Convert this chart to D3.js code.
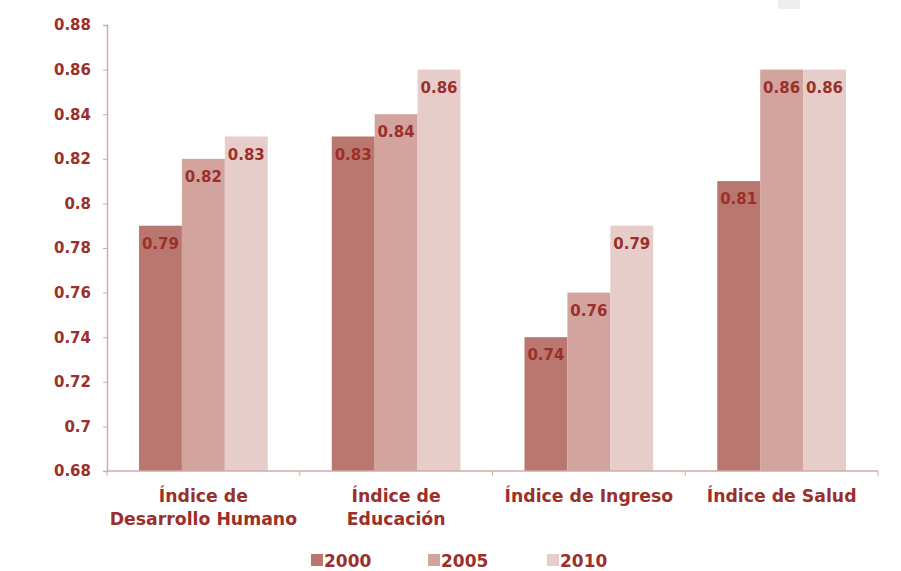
<!DOCTYPE html>
<html><head><meta charset="utf-8">
<script src="https://cdn.jsdelivr.net/npm/d3@7"></script>
<style>body{margin:0;background:#fff}text{font-family:"DejaVu Sans",Verdana,sans-serif;font-weight:bold}</style>
</head><body><svg id="c" width="901" height="571"></svg>
<script>
const categories = [["Índice de","Desarrollo Humano"],["Índice de","Educación"],["Índice de Ingreso"],["Índice de Salud"]];
const years = ["2000","2005","2010"];
const v2000 = [0.79,0.83,0.74,0.81];
const v2005 = [0.82,0.84,0.76,0.86];
const v2010 = [0.83,0.86,0.79,0.86];
const yTicks = [0.68,0.70,0.72,0.74,0.76,0.78,0.80,0.82,0.84,0.86,0.88];
const series = [v2000,v2005,v2010];
const colors = ["#b9776f","#d3a39e","#e7cdca"];
const txt = "#9b2f2a";
const axisCol = "#d2aaa6";

const svg = d3.select("#c");
const L=107,R=878,T=25,B=471;
const y = d3.scaleLinear().domain([0.68,0.88]).range([B,T]);
const x = d3.scaleBand().domain(d3.range(categories.length)).range([L,R]).padding(0);
const xs = d3.scaleBand().domain(d3.range(years.length)).range([32,x.bandwidth()-32]).padding(0);

svg.append("rect").attr("x",778).attr("y",0).attr("width",22).attr("height",9).attr("fill","#eeeeee");

const g = svg.append("g");
categories.forEach((c,i)=>{
  series.forEach((s,j)=>{
    const bx = x(i)+xs(j), v=s[i];
    g.append("rect").attr("x",bx).attr("y",y(v)).attr("width",xs.bandwidth()).attr("height",B-y(v))
      .attr("fill",colors[j]);
    g.append("text").attr("x",bx+xs.bandwidth()/2).attr("y",y(v)+23).attr("text-anchor","middle")
      .attr("font-size",15).attr("fill",txt).text(d3.format(".2f")(v));
  });
});

// y axis
const ya = svg.append("g").attr("transform",`translate(${L},0)`)
  .call(d3.axisLeft(y).tickValues(yTicks).tickSize(4).tickPadding(12).tickFormat(d=>String(+d.toFixed(2))));
ya.select(".domain").attr("stroke",axisCol).attr("stroke-width",1.5);
ya.selectAll(".tick line").attr("stroke",axisCol);
ya.selectAll(".tick text").attr("font-size",15).attr("fill",txt).attr("font-family","DejaVu Sans").attr("font-weight","bold");

// x axis
svg.append("line").attr("x1",L).attr("x2",R).attr("y1",B).attr("y2",B).attr("stroke",axisCol).attr("stroke-width",1.5);
d3.range(categories.length+1).forEach(i=>{
  const xx = i<categories.length? x(i): R;
  svg.append("line").attr("x1",xx).attr("x2",xx).attr("y1",B).attr("y2",B+5).attr("stroke",axisCol);
});
categories.forEach((c,i)=>{
  const t = svg.append("text").attr("text-anchor","middle").attr("font-size",17.3).attr("fill",txt);
  c.forEach((line,k)=>t.append("tspan").attr("x",x(i)+x.bandwidth()/2).attr("y",502+k*23).text(line));
});

// legend
const lx=[311,428,547];
years.forEach((yr,j)=>{
  svg.append("rect").attr("x",lx[j]).attr("y",554).attr("width",12).attr("height",12).attr("fill",colors[j]);
  svg.append("text").attr("x",lx[j]+13).attr("y",567).attr("font-size",17).attr("fill",txt).text(yr);
});
</script></body></html>
